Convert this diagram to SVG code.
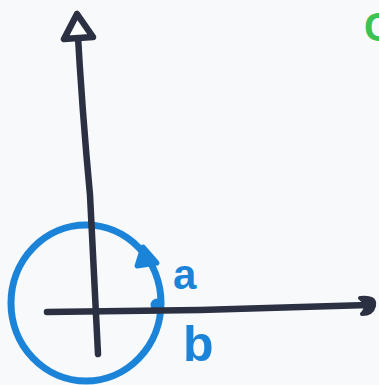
<svg xmlns="http://www.w3.org/2000/svg" width="379" height="385" viewBox="0 0 379 385">
<style>
.ink{fill:none;stroke:#2b3142;stroke-width:6.5;stroke-linecap:round;stroke-linejoin:round}
.blue{fill:none;stroke:#1c84d8;stroke-width:7;stroke-linecap:round;stroke-linejoin:round}
.lbl{font-family:"Liberation Sans",Arial,sans-serif;font-weight:bold;fill:#1c84d8}
</style>
<rect width="379" height="385" fill="#f8f9fb"/>
<g id="heading">
<text x="364" y="41" font-family="Liberation Sans,Arial,sans-serif" font-size="40" font-weight="bold" fill="#3cc153">C</text>
</g>
<g id="circle">
<ellipse cx="86" cy="303" rx="75" ry="78" class="blue"/>
<circle cx="157" cy="305" r="6.5" fill="#1c84d8"/>
<path d="M137,266 L143,247 L157,263 Z" fill="#1c84d8" stroke="#1c84d8" stroke-width="5" stroke-linejoin="round"/>
</g>
<g id="connectors">
<path class="ink" d="M77,20 Q82,110 90,195 Q95,290 98,354"/>
<path d="M77,14 L64,39 L93,37 Z" fill="#fff" stroke="#2b3142" stroke-width="6.5" stroke-linejoin="round"/>
<path class="ink" d="M47,312 L200,310 L368,305"/>
<path d="M360,298 Q376,296 374,306 Q372,314 362,314 Q370,306 360,298 Z" fill="#2b3142" stroke="#2b3142" stroke-width="4" stroke-linejoin="round"/>
</g>
<g id="label-a"><text class="lbl" x="173" y="289" font-size="42">a</text></g>
<g id="label-b"><text class="lbl" x="183" y="361" font-size="50">b</text></g>
</svg>
